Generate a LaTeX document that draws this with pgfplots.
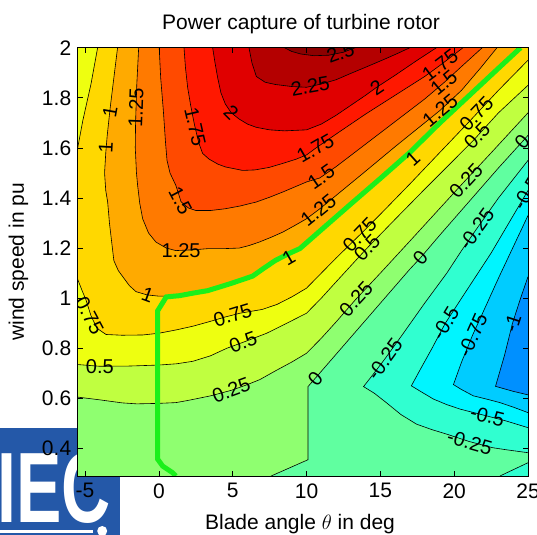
\documentclass[border=0pt]{standalone}
\usepackage{pgfplots}
\pgfplotsset{compat=1.18}
\usepackage{fontspec}
\setmainfont{Liberation Sans}
\definecolor{c0}{HTML}{0090FF}
\definecolor{c1}{HTML}{00CCFF}
\definecolor{c2}{HTML}{00F5FF}
\definecolor{c3}{HTML}{30FFD0}
\definecolor{c4}{HTML}{60FFA0}
\definecolor{c5}{HTML}{8FFF70}
\definecolor{c6}{HTML}{C0FF40}
\definecolor{c7}{HTML}{EEFF10}
\definecolor{c8}{HTML}{FFD800}
\definecolor{c9}{HTML}{FFAA00}
\definecolor{c10}{HTML}{FF7A00}
\definecolor{c11}{HTML}{FF4A00}
\definecolor{c12}{HTML}{FF1800}
\definecolor{c13}{HTML}{E00000}
\definecolor{c14}{HTML}{B40000}
\definecolor{c15}{HTML}{8C0000}
\definecolor{logoblue}{HTML}{2458A8}
\definecolor{trajgreen}{HTML}{1AF01A}
\newcommand{\bigf}{\fontsize{21bp}{25bp}\selectfont}
\newcommand{\lblf}{\fontsize{20bp}{24bp}\selectfont}
\pgfplotsset{cl/.style={black, line width=0.6bp, forget plot},
  bf/.style={draw=none, forget plot}}
\tikzset{lb/.style={font=\lblf, inner sep=0pt}}
\begin{document}
\begin{tikzpicture}
\path[use as bounding box] (-77.7bp,-59bp) rectangle (459.3bp,476bp);
% logo in the lower left corner
\fill[logoblue] (-77.7bp,-59bp) rectangle (42.3bp,48bp);
\node[white, anchor=base west, inner sep=0pt, font=\fontsize{100bp}{100bp}\selectfont\bfseries] at (-80.7bp,-46bp) {\scalebox{0.68}[1]{IEC}};
\fill[white] (-77.7bp,-57bp) rectangle (15bp,-54bp);
\fill[white] (24.5bp,-55bp) circle (5bp);
\begin{axis}[at={(0,0)}, anchor=south west, scale only axis,
  width=450.3bp, height=428.3bp,
  xmin=-5.5, xmax=25, ymin=0.29, ymax=2,
  axis on top,
  xtick={-5,0,5,10,15,20,25}, xticklabels={-5,0,5,10,15,20,25},
  ytick={0.4,0.6,0.8,1,1.2,1.4,1.6,1.8,2},
  yticklabels={0.4,0.6,0.8,1,1.2,1.4,1.6,1.8,2},
  ticklabel style={font=\bigf},
  yticklabel style={xshift=-3bp},
  xticklabel style={yshift=-4bp},
  major tick length=5bp,
  tick style={black, line width=0.7bp},
  axis line style={black, line width=0.8bp},
]
% background band (-1 .. -0.75)
\addplot[fill=c1, bf] coordinates {(-5.5,0.29) (25,0.29) (25,2) (-5.5,2)};
% below -1
\addplot[fill=c0, bf] coordinates {(25,0.614) (24,0.628) (22.8,0.648) (23.4,0.77) (23.95,0.9) (24.5,1.0) (25,1.086)};
% >= -0.75
\addplot[fill=c2, bf] coordinates {(25,0.543) (24,0.565) (23.1,0.583) (22.2,0.597) (21.3,0.61) (20.5,0.635) (19.95,0.655) (20.5,0.745) (21.25,0.853) (22,0.95) (23,1.08) (24,1.205) (25,1.33) (25,2) (-5.5,2) (-5.5,0.29) (25,0.29)};
% >= -0.5
\addplot[fill=c3, bf] coordinates {(25,0.483) (23.5,0.51) (22.2,0.53) (20.4,0.557) (19.5,0.575) (18.6,0.597) (17.8,0.625) (17.1,0.65) (17.7,0.715) (18.5,0.8) (19.4,0.9) (20.5,1.0) (21.5,1.09) (22.5,1.18) (23.7,1.3) (25,1.43) (25,2) (-5.5,2) (-5.5,0.29) (25,0.29)};
% >= -0.25
\addplot[fill=c4, bf] coordinates {(25,0.383) (23.5,0.395) (22.6,0.403) (21,0.428) (19.5,0.457) (18.5,0.475) (17.45,0.497) (16.4,0.535) (15.4,0.583) (14.6,0.62) (13.86,0.647) (14.5,0.695) (15.3,0.757) (16.5,0.855) (18,0.98) (19.5,1.1) (20.5,1.19) (21.5,1.275) (23,1.4) (25,1.55) (25,2) (-5.5,2) (-5.5,0.29) (23.1,0.29) (25,0.343)};
% >= 0
\addplot[fill=c5, bf] coordinates {(7.6,0.29) (10.1,0.355) (10.1,0.647) (11,0.708) (12,0.776) (13,0.844) (14,0.912) (15,0.98) (16,1.048) (17,1.116) (17.7,1.16) (19,1.25) (21,1.385) (23,1.52) (25,1.65) (25,2) (-5.5,2) (-5.5,0.29)};
% >= 0.25
\addplot[fill=c6, bf] coordinates {(-5.5,0.605) (-4,0.594) (-2.5,0.582) (-1.5,0.578) (0,0.58) (1.15,0.583) (2,0.592) (3.5,0.61) (4.9,0.632) (6,0.655) (6.84,0.675) (7.9,0.71) (9,0.745) (10,0.78) (11,0.84) (12,0.905) (13.3,0.993) (15,1.1) (17,1.228) (19,1.357) (20.6,1.46) (22.5,1.58) (25,1.74) (25,2) (-5.5,2)};
% >= 0.5
\addplot[fill=c7, bf] coordinates {(-5.5,0.735) (-4,0.728) (-2,0.729) (0,0.733) (1.2,0.738) (2.3,0.748) (3.5,0.77) (4.6,0.8) (5.8,0.826) (7.3,0.86) (8.5,0.895) (10,0.94) (11,1.0) (12,1.065) (14.07,1.198) (16,1.315) (18,1.435) (20,1.553) (21.3,1.63) (23,1.74) (25,1.85) (25,2) (-5.5,2)};
% >= 0.75
\addplot[fill=c8, bf] coordinates {(-5.5,1.075) (-5.2,1.03) (-4.94,0.993) (-4.6,0.93) (-4.2,0.88) (-3.58,0.855) (-2.5,0.852) (-1.1,0.853) (0,0.86) (1.15,0.873) (2.3,0.888) (3.4,0.906) (4.5,0.925) (5.5,0.94) (7,0.955) (8,0.975) (9,1.005) (10,1.04) (11,1.1) (12,1.16) (13.7,1.258) (15,1.335) (17,1.456) (19,1.58) (21.1,1.71) (23,1.83) (25,1.95) (25,2) (-4.15,2) (-4.6,1.855) (-5.15,1.71) (-5.5,1.6)};
% >= 1
\addplot[fill=c9, bf] coordinates {(-2.8,2) (-3.05,1.88) (-3.3,1.76) (-3.5,1.65) (-3.6,1.58) (-3.68,1.5) (-3.6,1.43) (-3.47,1.384) (-3.35,1.3) (-3.25,1.25) (-3.05,1.15) (-2.75,1.11) (-2.45,1.086) (-2,1.05) (-1.55,1.026) (-0.8,1.013) (0,1.008) (0.5,1.008) (1.4,1.013) (2.3,1.022) (3.3,1.032) (4.3,1.05) (5,1.063) (6.35,1.09) (7.07,1.12) (7.9,1.153) (8.8,1.18) (9.55,1.2) (11,1.275) (13,1.378) (15,1.48) (17,1.584) (19,1.7) (21,1.81) (23,1.92) (24.3,2)};
% >= 1.25
\addplot[fill=c10, bf] coordinates {(-1.37,2) (-1.5,1.85) (-1.58,1.7) (-1.6,1.6) (-1.52,1.5) (-1.44,1.45) (-1.3,1.38) (-1.1,1.317) (-0.7,1.26) (-0.2,1.224) (0.5,1.2) (1.15,1.19) (2.3,1.193) (3.4,1.198) (4.5,1.198) (5.44,1.2) (6.1,1.21) (6.8,1.224) (7.6,1.243) (8.4,1.264) (9.2,1.29) (10,1.317) (10.9,1.357) (12,1.41) (14,1.507) (16,1.605) (18,1.7) (19.05,1.75) (20.5,1.83) (21.8,1.92) (22.9,2)};
% >= 1.5
\addplot[fill=c11, bf] coordinates {(0.02,2) (0.12,1.88) (0.3,1.75) (0.45,1.62) (0.55,1.55) (0.75,1.5) (1.15,1.45) (1.5,1.385) (2,1.36) (2.5,1.35) (3.5,1.35) (4.5,1.357) (5.5,1.368) (6.6,1.384) (7.5,1.403) (8.4,1.424) (10,1.464) (10.9,1.48) (12,1.525) (14,1.615) (16,1.705) (18,1.795) (19.3,1.86) (20.5,1.925) (21.9,2)};
% >= 1.75
\addplot[fill=c12, bf] coordinates {(1.7,2) (1.8,1.92) (1.95,1.84) (2.15,1.77) (2.4,1.695) (2.7,1.62) (2.96,1.578) (3.4,1.555) (4,1.535) (4.5,1.524) (5.67,1.51) (6.5,1.512) (7.47,1.522) (8.5,1.54) (9.3,1.555) (10,1.572) (10.6,1.598) (12,1.655) (14,1.735) (16,1.81) (18,1.885) (19.05,1.93) (20.6,2)};
% >= 2
\addplot[fill=c13, bf] coordinates {(3.64,2) (3.8,1.94) (3.98,1.88) (4.2,1.82) (4.5,1.775) (4.9,1.74) (5.44,1.715) (6,1.695) (6.6,1.682) (7.5,1.672) (8.5,1.668) (10,1.672) (11,1.695) (12,1.73) (13,1.77) (14,1.81) (14.7,1.84) (16,1.89) (17.5,1.95) (18.8,2)};
% >= 2.25
\addplot[fill=c14, bf] coordinates {(6.1,2) (6.3,1.94) (6.6,1.885) (7.2,1.862) (7.9,1.853) (9,1.845) (10,1.842) (11,1.855) (12,1.872) (12.9,1.895) (14,1.922) (15.2,1.952) (16.2,1.978) (17,2)};
% >= 2.5
\addplot[fill=c15, bf] coordinates {(8.5,2) (9,1.985) (9.6,1.975) (10.5,1.968) (11.5,1.97) (12.5,1.982) (13.3,2)};
% ---- contour lines
\addplot[cl] coordinates {(25,0.614) (24,0.628) (22.8,0.648) (23.4,0.77) (23.95,0.9) (24.5,1.0) (25,1.086)};
\addplot[cl] coordinates {(25,0.543) (24,0.565) (23.1,0.583) (22.2,0.597) (21.3,0.61) (20.5,0.635) (19.95,0.655) (20.5,0.745) (21.25,0.853) (22,0.95) (23,1.08) (24,1.205) (25,1.33)};
\addplot[cl] coordinates {(25,0.483) (23.5,0.51) (22.2,0.53) (20.4,0.557) (19.5,0.575) (18.6,0.597) (17.8,0.625) (17.1,0.65) (17.7,0.715) (18.5,0.8) (19.4,0.9) (20.5,1.0) (21.5,1.09) (22.5,1.18) (23.7,1.3) (25,1.43)};
\addplot[cl] coordinates {(25,0.383) (23.5,0.395) (22.6,0.403) (21,0.428) (19.5,0.457) (18.5,0.475) (17.45,0.497) (16.4,0.535) (15.4,0.583) (14.6,0.62) (13.86,0.647) (14.5,0.695) (15.3,0.757) (16.5,0.855) (18,0.98) (19.5,1.1) (20.5,1.19) (21.5,1.275) (23,1.4) (25,1.55)};
\addplot[cl] coordinates {(23.1,0.29) (25,0.343)};
\addplot[cl] coordinates {(7.6,0.29) (10.1,0.355) (10.1,0.647) (11,0.708) (12,0.776) (13,0.844) (14,0.912) (15,0.98) (16,1.048) (17,1.116) (17.7,1.16) (19,1.25) (21,1.385) (23,1.52) (25,1.65)};
\addplot[cl] coordinates {(-5.5,0.605) (-4,0.594) (-2.5,0.582) (-1.5,0.578) (0,0.58) (1.15,0.583) (2,0.592) (3.5,0.61) (4.9,0.632) (6,0.655) (6.84,0.675) (7.9,0.71) (9,0.745) (10,0.78) (11,0.84) (12,0.905) (13.3,0.993) (15,1.1) (17,1.228) (19,1.357) (20.6,1.46) (22.5,1.58) (25,1.74)};
\addplot[cl] coordinates {(-5.5,0.735) (-4,0.728) (-2,0.729) (0,0.733) (1.2,0.738) (2.3,0.748) (3.5,0.77) (4.6,0.8) (5.8,0.826) (7.3,0.86) (8.5,0.895) (10,0.94) (11,1.0) (12,1.065) (14.07,1.198) (16,1.315) (18,1.435) (20,1.553) (21.3,1.63) (23,1.74) (25,1.85)};
\addplot[cl] coordinates {(-5.5,1.075) (-5.2,1.03) (-4.94,0.993) (-4.6,0.93) (-4.2,0.88) (-3.58,0.855) (-2.5,0.852) (-1.1,0.853) (0,0.86) (1.15,0.873) (2.3,0.888) (3.4,0.906) (4.5,0.925) (5.5,0.94) (7,0.955) (8,0.975) (9,1.005) (10,1.04) (11,1.1) (12,1.16) (13.7,1.258) (15,1.335) (17,1.456) (19,1.58) (21.1,1.71) (23,1.83) (25,1.95)};
\addplot[cl] coordinates {(-4.15,2) (-4.6,1.855) (-5.15,1.71) (-5.5,1.6)};
\addplot[cl] coordinates {(-2.8,2) (-3.05,1.88) (-3.3,1.76) (-3.5,1.65) (-3.6,1.58) (-3.68,1.5) (-3.6,1.43) (-3.47,1.384) (-3.35,1.3) (-3.25,1.25) (-3.05,1.15) (-2.75,1.11) (-2.45,1.086) (-2,1.05) (-1.55,1.026) (-0.8,1.013) (0,1.008) (0.5,1.008) (1.4,1.013) (2.3,1.022) (3.3,1.032) (4.3,1.05) (5,1.063) (6.35,1.09) (7.07,1.12) (7.9,1.153) (8.8,1.18) (9.55,1.2) (11,1.275) (13,1.378) (15,1.48) (17,1.584) (19,1.7) (21,1.81) (23,1.92) (24.3,2)};
\addplot[cl] coordinates {(-1.37,2) (-1.5,1.85) (-1.58,1.7) (-1.6,1.6) (-1.52,1.5) (-1.44,1.45) (-1.3,1.38) (-1.1,1.317) (-0.7,1.26) (-0.2,1.224) (0.5,1.2) (1.15,1.19) (2.3,1.193) (3.4,1.198) (4.5,1.198) (5.44,1.2) (6.1,1.21) (6.8,1.224) (7.6,1.243) (8.4,1.264) (9.2,1.29) (10,1.317) (10.9,1.357) (12,1.41) (14,1.507) (16,1.605) (18,1.7) (19.05,1.75) (20.5,1.83) (21.8,1.92) (22.9,2)};
\addplot[cl] coordinates {(0.02,2) (0.12,1.88) (0.3,1.75) (0.45,1.62) (0.55,1.55) (0.75,1.5) (1.15,1.45) (1.5,1.385) (2,1.36) (2.5,1.35) (3.5,1.35) (4.5,1.357) (5.5,1.368) (6.6,1.384) (7.5,1.403) (8.4,1.424) (10,1.464) (10.9,1.48) (12,1.525) (14,1.615) (16,1.705) (18,1.795) (19.3,1.86) (20.5,1.925) (21.9,2)};
\addplot[cl] coordinates {(1.7,2) (1.8,1.92) (1.95,1.84) (2.15,1.77) (2.4,1.695) (2.7,1.62) (2.96,1.578) (3.4,1.555) (4,1.535) (4.5,1.524) (5.67,1.51) (6.5,1.512) (7.47,1.522) (8.5,1.54) (9.3,1.555) (10,1.572) (10.6,1.598) (12,1.655) (14,1.735) (16,1.81) (18,1.885) (19.05,1.93) (20.6,2)};
\addplot[cl] coordinates {(3.64,2) (3.8,1.94) (3.98,1.88) (4.2,1.82) (4.5,1.775) (4.9,1.74) (5.44,1.715) (6,1.695) (6.6,1.682) (7.5,1.672) (8.5,1.668) (10,1.672) (11,1.695) (12,1.73) (13,1.77) (14,1.81) (14.7,1.84) (16,1.89) (17.5,1.95) (18.8,2)};
\addplot[cl] coordinates {(6.1,2) (6.3,1.94) (6.6,1.885) (7.2,1.862) (7.9,1.853) (9,1.845) (10,1.842) (11,1.855) (12,1.872) (12.9,1.895) (14,1.922) (15.2,1.952) (16.2,1.978) (17,2)};
\addplot[cl] coordinates {(8.5,2) (9,1.985) (9.6,1.975) (10.5,1.968) (11.5,1.97) (12.5,1.982) (13.3,2)};
% ---- operating trajectory
\addplot[trajgreen, line width=5bp, forget plot] coordinates {(1.15,0.29) (0.93,0.303) (0.25,0.33) (-0.08,0.357) (-0.08,0.95) (0.5,1.005) (1.4,1.01) (2.3,1.02) (3.3,1.03) (4.3,1.048) (5,1.061) (6.35,1.088) (7.07,1.118) (7.9,1.151) (8.8,1.178) (9.55,1.198) (11,1.273) (13,1.376) (15,1.478) (17,1.582) (19,1.698) (21,1.808) (23,1.918) (24.5,2.0)};
% ---- contour labels
\begin{scope}
\clip (axis cs:-5.5,0.29) rectangle (axis cs:25,2);
\node[lb, rotate=20] at (axis cs:12.3,1.98) {2.5};
\node[lb, rotate=10] at (axis cs:10.25,1.845) {2.25};
\node[lb, rotate=34] at (axis cs:14.76,1.84) {2};
\node[lb, rotate=-45] at (axis cs:4.9,1.74) {2};
\node[lb, rotate=-77] at (axis cs:2.45,1.685) {1.75};
\node[lb, rotate=30] at (axis cs:10.6,1.598) {1.75};
\node[lb, rotate=37] at (axis cs:19.05,1.93) {1.75};
\node[lb, rotate=-62] at (axis cs:1.45,1.39) {1.5};
\node[lb, rotate=35] at (axis cs:11.0,1.484) {1.5};
\node[lb, rotate=40] at (axis cs:19.3,1.86) {1.5};
\node[lb, rotate=88] at (axis cs:-1.55,1.76) {1.25};
\node[lb] at (axis cs:1.5,1.19) {1.25};
\node[lb, rotate=39] at (axis cs:10.8,1.352) {1.25};
\node[lb, rotate=40] at (axis cs:19.05,1.75) {1.25};
\node[lb, rotate=80] at (axis cs:-3.3,1.745) {1};
\node[lb, rotate=87] at (axis cs:-3.6,1.6) {1};
\node[lb, rotate=-20] at (axis cs:-0.76,1.013) {1};
\node[lb, rotate=30] at (axis cs:8.8,1.16) {1};
\node[lb, rotate=42] at (axis cs:17.2,1.555) {1};
\node[lb, rotate=-62] at (axis cs:-4.7,0.93) {0.75};
\node[lb, rotate=17] at (axis cs:5.0,0.933) {0.75};
\node[lb, rotate=46] at (axis cs:13.6,1.255) {0.75};
\node[lb, rotate=46] at (axis cs:21.5,1.735) {0.75};
\node[lb] at (axis cs:-4.0,0.728) {0.5};
\node[lb, rotate=20] at (axis cs:5.7,0.824) {0.5};
\node[lb, rotate=46] at (axis cs:14.1,1.2) {0.5};
\node[lb, rotate=46] at (axis cs:21.55,1.647) {0.5};
\node[lb, rotate=20] at (axis cs:4.9,0.632) {0.25};
\node[lb, rotate=47] at (axis cs:13.35,0.996) {0.25};
\node[lb, rotate=47] at (axis cs:20.8,1.47) {0.25};
\node[lb, rotate=49] at (axis cs:10.6,0.68) {0};
\node[lb, rotate=49] at (axis cs:17.7,1.16) {0};
\node[lb, rotate=49] at (axis cs:24.6,1.625) {0};
\node[lb, rotate=54] at (axis cs:15.3,0.757) {-0.25};
\node[lb, rotate=54] at (axis cs:21.5,1.275) {-0.25};
\node[lb, rotate=-16] at (axis cs:21.05,0.424) {-0.25};
\node[lb, rotate=59] at (axis cs:19.4,0.9) {-0.5};
\node[lb, rotate=-14] at (axis cs:22.25,0.53) {-0.5};
\node[lb, rotate=59] at (axis cs:24.9,1.42) {-0.5};
\node[lb, rotate=66] at (axis cs:21.25,0.853) {-0.75};
\node[lb, rotate=72] at (axis cs:23.95,0.9) {-1};
\end{scope}
\end{axis}
\node[anchor=base, font=\bigf] at (223.3bp,446bp) {Power capture of turbine rotor};
\node[anchor=base, font=\bigf] at (222.3bp,-53bp) {Blade angle $\theta$ in deg};
\node[anchor=base, rotate=90, font=\bigf] at (-53.7bp,214.15bp) {wind speed in pu};
\end{tikzpicture}
\end{document}
